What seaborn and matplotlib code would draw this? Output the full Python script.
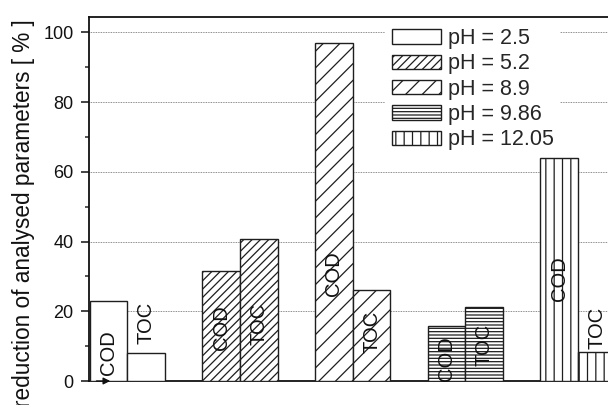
import matplotlib
matplotlib.use("Agg")
import matplotlib.pyplot as plt
from matplotlib.patches import Patch
from matplotlib.ticker import MultipleLocator
import seaborn as sns
import pandas as pd

# pH levels of the five runs and the measured reductions
ph_labels = ["pH = 2.5", "pH = 5.2", "pH = 8.9", "pH = 9.86", "pH = 12.05"]
parameters = ["COD", "TOC"]
cod_reduction = [23.0, 31.5, 97.0, 15.9, 63.9]
toc_reduction = [8.0, 40.6, 26.0, 21.3, 8.2]

# hatch pattern used for each pH level
hatches = ["", "////", "//", "-----", "||"]

df = pd.DataFrame({
    "ph": ph_labels * 2,
    "parameter": ["COD"] * len(ph_labels) + ["TOC"] * len(ph_labels),
    "reduction": cod_reduction + toc_reduction,
})

sns.set_theme(style="white")
plt.rcParams["font.family"] = ["Liberation Sans", "DejaVu Sans"]
plt.rcParams["hatch.linewidth"] = 0.9

W, H = 608, 405
fig = plt.figure(figsize=(W / 100, H / 100), dpi=100)
ax = fig.add_axes([89 / W, 24 / H, 531 / W, 364 / H])

edge = "#1e1e1e"
sns.barplot(data=df, x="ph", y="reduction", hue="parameter",
            hue_order=parameters, order=ph_labels, width=0.669,
            palette=["white", "white"], edgecolor=edge,
            linewidth=1.0, legend=False, ax=ax, zorder=3, errorbar=None)

for container in ax.containers:
    for bar, hatch in zip(container, hatches):
        bar.set_hatch(hatch)
        bar.set_edgecolor(edge)

# vertical position (in % units) of the rotated COD / TOC tags
label_y = {
    "COD": [8.2, 15.2, 30.7, 6.4, 29.5],
    "TOC": [16.8, 16.3, 14.1, 10.3, 15.3],
}
for container, param in zip(ax.containers, parameters):
    for bar, yv in zip(container, label_y[param]):
        xc = bar.get_x() + bar.get_width() / 2
        ax.text(xc, yv, param, rotation=90, ha="center", va="center",
                fontsize=14.5, color="#111111", zorder=4)

ax.set_xlim(-0.34, 4.372)
ax.set_ylim(0, 104.4)
ax.set_xticks([])
ax.set_xlabel("")
ax.set_ylabel("")

ax.yaxis.set_major_locator(MultipleLocator(20))
ax.yaxis.set_minor_locator(MultipleLocator(10))
ax.tick_params(axis="y", which="major", direction="out", length=6, width=1.1,
               pad=5, labelsize=13, colors="#111111", left=True)
ax.tick_params(axis="y", which="minor", direction="out", length=3, width=1.1,
               left=True)
ax.grid(axis="y", which="major", linestyle=(0, (1.0, 1.0)), color="0.4",
        linewidth=0.6, zorder=0)
ax.set_axisbelow(True)

for side in ["left", "top", "bottom"]:
    ax.spines[side].set_visible(True)
    ax.spines[side].set_color("#111111")
    ax.spines[side].set_linewidth(1.3)
ax.spines["right"].set_visible(False)

# small arrow at the origin of the baseline
ax.annotate("", xy=(0.04, 0), xytext=(0.014, 0), xycoords="axes fraction",
            arrowprops=dict(arrowstyle="-|>", color="#111111", lw=1.0,
                            mutation_scale=10, shrinkA=0, shrinkB=0),
            annotation_clip=False, zorder=5)

handles = [Patch(facecolor="white", edgecolor=edge, hatch=h, linewidth=1.0)
           for h in hatches]
leg = ax.legend(handles, ph_labels, loc="upper left",
                bbox_to_anchor=(0.558, 0.987), borderaxespad=0,
                frameon=True, fancybox=False, fontsize=15.5,
                handlelength=2.28, handleheight=0.65, handletextpad=0.33,
                labelspacing=0.2, borderpad=0.3)
leg.get_frame().set_facecolor("white")
leg.get_frame().set_edgecolor("none")
leg.get_frame().set_alpha(1)
leg.set_zorder(6)

fig.text(24 / W, 1 - 19 / H, "reduction of analysed parameters [ % ]",
         rotation=90, ha="center", va="top", fontsize=16.3, color="#111111")

fig.savefig("out.png", dpi=100)
